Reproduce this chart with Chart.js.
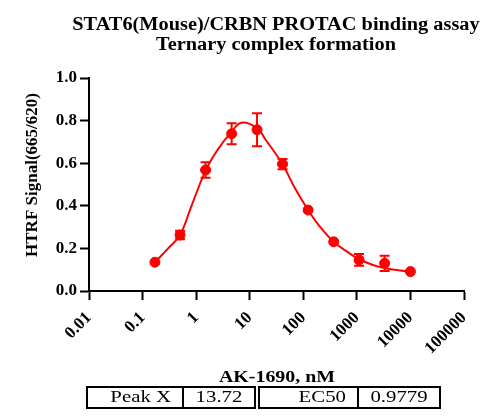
<!DOCTYPE html>
<html lang="en">
  <head>
    <meta charset="UTF-8" />
    <title>STAT6 ternary complex</title>
    <script src="https://cdn.jsdelivr.net/npm/chart.js"></script>
    <style>
      body { margin: 0; background: white; }
      #wrap { width: 500px; height: 420px; }
    </style>
  </head>
  <body>
    <div id="wrap"><canvas id="c" width="500" height="420"></canvas></div>
    <script>
      // measured points (AK-1690 nM vs HTRF signal)
      const concs = [0.17, 0.5, 1.5, 4.6, 13.7, 41, 123, 370, 1100, 3300, 10000];
      const signal = [0.135, 0.263, 0.568, 0.738, 0.757, 0.596, 0.380, 0.231, 0.146, 0.130, 0.091];
      const errs = [0, 0.02, 0.036, 0.049, 0.077, 0.024, 0, 0, 0.028, 0.036, 0];

      // fitted curve
      const fitX = [0.17, 0.3, 0.5, 0.8, 1.5, 2.5, 4.6, 7, 13.7, 20, 41, 70, 123, 200, 370, 700, 1100, 2000, 3300, 6000, 10000];
      const fitY = [0.135, 0.200, 0.263, 0.393, 0.565, 0.662, 0.748, 0.790, 0.764, 0.709, 0.595, 0.482, 0.380, 0.305, 0.231, 0.180, 0.149, 0.122, 0.108, 0.097, 0.091];

      const xTicks = [0.01, 0.1, 1, 10, 100, 1000, 10000, 100000];
      const xTickLabels = ['0.01', '0.1', '1', '10', '100', '1000', '10000', '100000'];

      const titleLines = ['STAT6(Mouse)/CRBN PROTAC binding assay', 'Ternary complex formation'];
      const tableCells = [['Peak X', '13.72'], ['EC50', '0.9779']];

      const serif = '"Liberation Serif", "Times New Roman", serif';
      const red = '#ff0000';

      // text in the original looks a bit wide, so stretch it horizontally
      function wideText(ctx, text, x, y, font, sx, align) {
        ctx.save();
        ctx.translate(x, y);
        ctx.scale(sx, 1);
        ctx.font = font;
        ctx.textAlign = align;
        ctx.fillText(text, 0, 0);
        ctx.restore();
      }

      const extras = {
        id: 'extras',
        afterDatasetsDraw(chart) {
          const ctx = chart.ctx;
          const xs = chart.scales.x, ys = chart.scales.y;
          ctx.save();
          ctx.strokeStyle = red;
          ctx.lineWidth = 2;
          concs.forEach((c, i) => {
            if (!errs[i]) return;
            const px = xs.getPixelForValue(c);
            const top = ys.getPixelForValue(signal[i] + errs[i]);
            const bot = ys.getPixelForValue(signal[i] - errs[i]);
            ctx.beginPath();
            ctx.moveTo(px, top); ctx.lineTo(px, bot);
            ctx.moveTo(px - 5, top); ctx.lineTo(px + 5, top);
            ctx.moveTo(px - 5, bot); ctx.lineTo(px + 5, bot);
            ctx.stroke();
          });
          ctx.restore();
        },
        afterDraw(chart) {
          const ctx = chart.ctx;
          ctx.save();
          ctx.fillStyle = '#000';
          ctx.textBaseline = 'alphabetic';
          wideText(ctx, titleLines[0], 276, 30, 'bold 18px ' + serif, 1.13, 'center');
          wideText(ctx, titleLines[1], 276, 50, 'bold 18px ' + serif, 1.13, 'center');

          wideText(ctx, 'AK-1690, nM', 277, 382, 'bold 17px ' + serif, 1.17, 'center');

          ctx.save();
          ctx.translate(37, 175);
          ctx.rotate(-Math.PI / 2);
          ctx.font = 'bold 17px ' + serif;
          ctx.textAlign = 'center';
          ctx.fillText('HTRF Signal(665/620)', 0, 0);
          ctx.restore();

          // stats table
          const boxes = [[87, 183, 255], [259, 358, 440]];
          ctx.lineWidth = 2;
          ctx.strokeStyle = '#000';
          boxes.forEach((b, i) => {
            ctx.strokeRect(b[0], 387, b[2] - b[0], 21);
            ctx.beginPath();
            ctx.moveTo(b[1], 387); ctx.lineTo(b[1], 408);
            ctx.stroke();
            wideText(ctx, tableCells[i][0], b[1] - 12, 402, '16px ' + serif, 1.3, 'right');
            wideText(ctx, tableCells[i][1], (b[1] + b[2]) / 2, 402, '16px ' + serif, 1.3, 'center');
          });
          ctx.restore();
        }
      };

      new Chart(document.getElementById('c'), {
        type: 'line',
        data: {
          datasets: [
            {
              label: 'fit',
              data: fitX.map((x, i) => ({ x: x, y: fitY[i] })),
              borderColor: red,
              borderWidth: 2,
              pointRadius: 0,
              tension: 0.4,
              fill: false
            },
            {
              label: 'data',
              data: concs.map((x, i) => ({ x: x, y: signal[i] })),
              showLine: false,
              pointRadius: 5,
              backgroundColor: red,
              borderColor: red
            }
          ]
        },
        options: {
          responsive: false,
          animation: false,
          layout: { padding: { top: 78, right: 36, left: 0, bottom: 0 } },
          plugins: { legend: { display: false }, tooltip: { enabled: false } },
          scales: {
            x: {
              type: 'logarithmic',
              min: 0.01,
              max: 100000,
              afterBuildTicks: (s) => { s.ticks = xTicks.map(v => ({ value: v })); },
              afterFit: (s) => { s.height = 129; },
              grid: { drawOnChartArea: false, tickLength: 9, tickWidth: 2, tickColor: '#000' },
              border: { color: '#000', width: 2 },
              ticks: {
                color: '#000',
                minRotation: 45,
                maxRotation: 45,
                autoSkip: false,
                padding: 8,
                font: { family: serif, size: 17, weight: 'bold' },
                callback: (v) => xTickLabels[xTicks.indexOf(v)]
              }
            },
            y: {
              min: 0,
              max: 1,
              afterFit: (s) => { s.width = 89; },
              grid: { drawOnChartArea: false, tickLength: 9, tickWidth: 2, tickColor: '#000' },
              border: { color: '#000', width: 2 },
              ticks: {
                stepSize: 0.2,
                color: '#000',
                padding: 3,
                font: { family: serif, size: 17, weight: 'bold' },
                callback: (v) => v.toFixed(1)
              }
            }
          }
        },
        plugins: [extras]
      });
    </script>
  </body>
</html>
